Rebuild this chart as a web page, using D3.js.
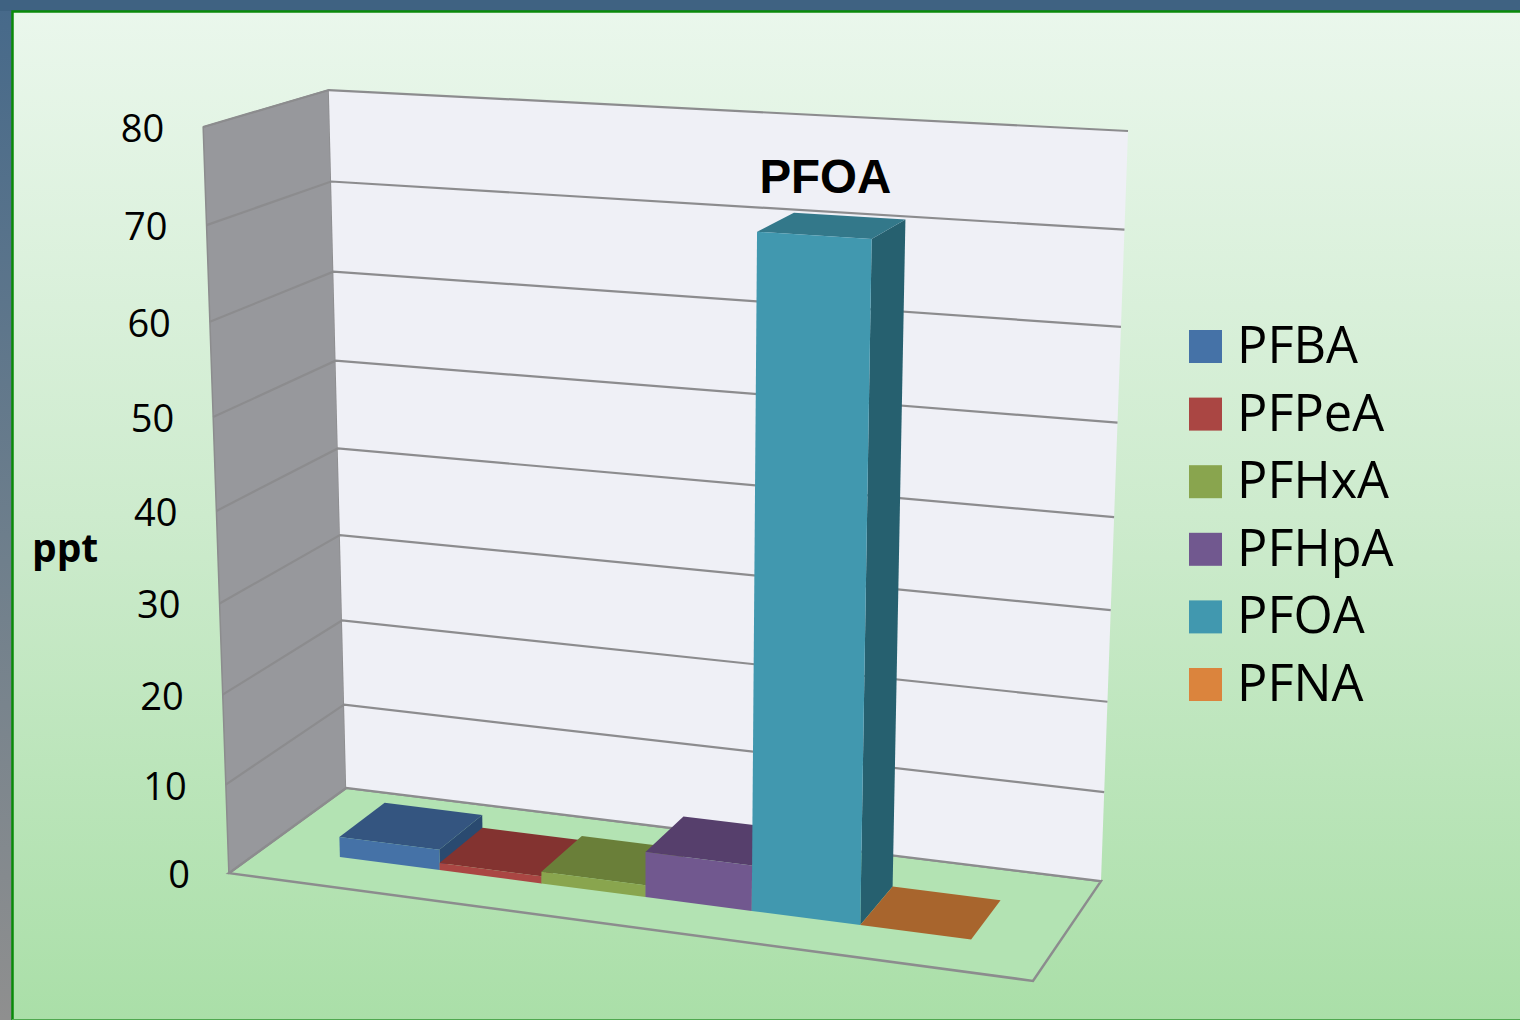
<!DOCTYPE html>
<html>
<head>
<meta charset="utf-8">
<script src="https://cdn.jsdelivr.net/npm/d3@7"></script>
<style>
html,body{margin:0;padding:0;background:#3f6282;overflow:hidden}
svg{display:block}
text{fill:#000}
</style>
</head>
<body>
<svg id="chart" width="1520" height="1020"></svg>
<script>
// Concentrations of the perfluorinated acids, in parts per trillion
const compounds = ["PFBA", "PFPeA", "PFHxA", "PFHpA", "PFOA", "PFNA"];
const levels = [2.3, 0.8, 1.3, 5.0, 71.3, 0];
const yTicks = [0, 10, 20, 30, 40, 50, 60, 70, 80];
const frontColors = ["#4572a7", "#aa4643", "#89a54e", "#71588f", "#4198af", "#db843d"];
const topColors = ["#345580", "#833330", "#6a7f39", "#563f6c", "#33788a", "#a8652d"];
const sideColors = ["#2a4a70", "#6f2a28", "#56682e", "#46335a", "#26606f", "#8c5424"];
const highlighted = "PFOA";
const unitLabel = "ppt";

const width = 1520, height = 1020;
const svg = d3.select("#chart");

// Box corners in normalised box space [x, value, depth] paired with their place on the page
const boxCorners = [
  [[0, 0, 0], [229, 873]], [[1, 0, 0], [1033, 981]],
  [[0, 0, 1], [346, 788]], [[1, 0, 1], [1101, 881]],
  [[0, 1, 0], [203, 127]], [[0, 1, 1], [329, 90]],
  [[1, 1, 1], [1128, 131]]
];

// Least-squares fit of a 3x4 projective camera with its last entry fixed at 1
function fitCamera(pairs) {
  const rows = [], rhs = [];
  pairs.forEach(([[a, b, c], [sx, sy]]) => {
    rows.push([a, b, c, 1, 0, 0, 0, 0, -sx * a, -sx * b, -sx * c]); rhs.push(sx);
    rows.push([0, 0, 0, 0, a, b, c, 1, -sy * a, -sy * b, -sy * c]); rhs.push(sy);
  });
  const n = 11;
  const m = d3.range(n).map(i => d3.range(n + 1).map(j =>
    d3.sum(rows, (r, k) => r[i] * (j < n ? r[j] : rhs[k]))));
  for (let i = 0; i < n; i++) {
    let p = i;
    for (let r = i + 1; r < n; r++) if (Math.abs(m[r][i]) > Math.abs(m[p][i])) p = r;
    [m[i], m[p]] = [m[p], m[i]];
    for (let r = 0; r < n; r++) {
      if (r === i) continue;
      const f = m[r][i] / m[i][i];
      for (let c = i; c <= n; c++) m[r][c] -= f * m[i][c];
    }
  }
  return m.map((row, i) => row[n] / row[i]);
}
const cam = fitCamera(boxCorners);
function project(a, b, c) {
  const w = cam[8] * a + cam[9] * b + cam[10] * c + 1;
  return [(cam[0] * a + cam[1] * b + cam[2] * c + cam[3]) / w,
          (cam[4] * a + cam[5] * b + cam[6] * c + cam[7]) / w];
}

const x = d3.scaleBand().domain(compounds).range([0, 1]).paddingInner(0).paddingOuter(0.75).align(0.5125);
const y = d3.scaleLinear().domain([0, 80]).range([0, 1]);
const barFront = 0.29, barBack = 0.69;
const poly = d3.line().curve(d3.curveLinearClosed);

// Page background and frame
const defs = svg.append("defs");
const bg = defs.append("linearGradient").attr("id", "bg").attr("x1", 0).attr("x2", 0).attr("y1", 0).attr("y2", 1);
bg.append("stop").attr("offset", 0).attr("stop-color", "#eaf7ec");
bg.append("stop").attr("offset", 0.5).attr("stop-color", "#cdebcd");
bg.append("stop").attr("offset", 1).attr("stop-color", "#aadfa8");
const edge = defs.append("linearGradient").attr("id", "edge").attr("x1", 0).attr("x2", 0).attr("y1", 0).attr("y2", 1);
edge.append("stop").attr("offset", 0).attr("stop-color", "#46698a");
edge.append("stop").attr("offset", 0.55).attr("stop-color", "#6f7f8c");
edge.append("stop").attr("offset", 1).attr("stop-color", "#8f8f8f");

svg.append("rect").attr("width", width).attr("height", height).attr("fill", "url(#edge)");
svg.append("rect").attr("width", width).attr("height", 11).attr("fill", "#3f6282");
svg.append("rect").attr("x", 12).attr("y", 11).attr("width", width - 12).attr("height", height - 11)
  .attr("fill", "url(#bg)");
svg.append("path").attr("d", `M12.5,${height}V11.5H${width}`).attr("fill", "none")
  .attr("stroke", "#0a8a0a").attr("stroke-width", 2.5);
svg.append("path").attr("d", `M12,${height - 0.5}H${width}`).attr("fill", "none")
  .attr("stroke", "#4fa84f").attr("stroke-width", 1);

const stroke = "#8c8c8e";

// Floor, side wall and back wall of the box
svg.append("path").attr("fill", "#b3e3b3").attr("stroke", stroke).attr("stroke-width", 2.5)
  .attr("d", poly([project(0, 0, 0), project(1, 0, 0), project(1, 0, 1), project(0, 0, 1)]));
svg.append("path").attr("fill", "#97989c").attr("stroke", stroke).attr("stroke-width", 1.5)
  .attr("d", poly([project(0, 0, 0), project(0, 1, 0), project(0, 1, 1), project(0, 0, 1)]));
svg.append("path").attr("fill", "#eff0f6")
  .attr("d", poly([project(0, 0, 1), project(0, 1, 1), project(1, 1, 1), project(1, 0, 1)]));

// Gridlines run along the side wall, then across the back wall
const grid = d3.line();
svg.append("g").selectAll("path").data(yTicks).join("path")
  .attr("fill", "none").attr("stroke", stroke).attr("stroke-width", 2.2)
  .attr("d", t => grid([project(0, y(t), 0), project(0, y(t), 1), project(1, y(t), 1)]));

// Bars, painted from left to right so that nearer ones overlap
const bars = svg.append("g").selectAll("g").data(compounds).join("g");
bars.each(function (name, i) {
  const g = d3.select(this);
  const a = x(name), b = a + x.bandwidth(), v = y(levels[i]);
  if (levels[i] > 0) {
    g.append("path").attr("fill", sideColors[i])
      .attr("d", poly([project(b, 0, barFront), project(b, v, barFront), project(b, v, barBack), project(b, 0, barBack)]));
  }
  g.append("path").attr("fill", topColors[i])
    .attr("d", poly([project(a, v, barFront), project(b, v, barFront), project(b, v, barBack), project(a, v, barBack)]));
  if (levels[i] > 0) {
    g.append("path").attr("fill", frontColors[i])
      .attr("d", poly([project(a, 0, barFront), project(b, 0, barFront), project(b, v, barFront), project(a, v, barFront)]));
  }
});

// Value labels hang off the front edge of the side wall
svg.append("g").selectAll("text").data(yTicks).join("text")
  .attr("x", t => project(0, y(t), 0)[0] - 39)
  .attr("y", t => project(0, y(t), 0)[1] + 15)
  .attr("text-anchor", "end")
  .style("font", "38px 'Open Sans'")
  .text(d3.format("d"));

svg.append("text").attr("x", 32).attr("y", 562)
  .style("font", "bold 39px 'Open Sans'").text(unitLabel);

// Name printed above the tallest bar
const hi = compounds.indexOf(highlighted);
const hiTop = project(x(highlighted) + x.bandwidth() / 2, y(levels[hi]), barBack);
svg.append("text").attr("x", hiTop[0] - 24).attr("y", hiTop[1] - 23).attr("text-anchor", "middle")
  .style("font", "bold 47.5px 'Liberation Sans'").text(highlighted);

// Legend
const legendY = d3.scalePoint().domain(compounds).range([330, 668]);
const legend = svg.append("g").selectAll("g").data(compounds).join("g")
  .attr("transform", d => `translate(1189,${legendY(d)})`);
legend.append("rect").attr("width", 33).attr("height", 33).attr("fill", (d, i) => frontColors[i]);
legend.append("text").attr("x", 48).attr("y", 33).style("font", "50.5px 'Open Sans'").text(d => d);
</script>
</body>
</html>
